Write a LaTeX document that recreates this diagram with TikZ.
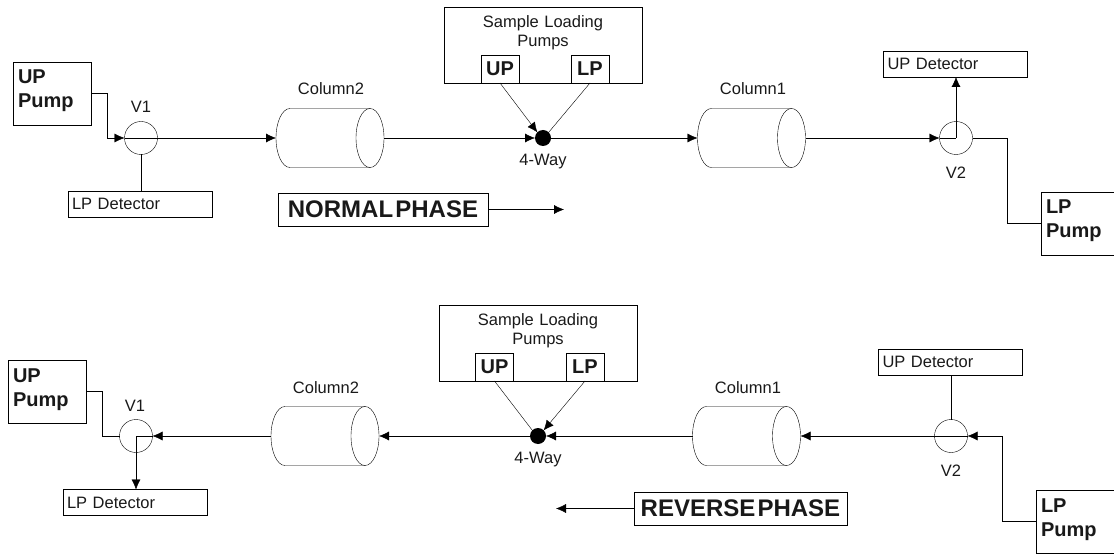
\documentclass[tikz,border=0pt]{standalone}
\usepackage{fontspec}
\setmainfont{Liberation Sans}
\usetikzlibrary{calc,arrows.meta}
\tikzset{%Global config
	>={Latex[length=10pt,width=9pt]},
	line width=1.15pt,
	color = black!90,
	%Styles
	Pump/.style={
		draw,
		outer sep=0pt,
		inner xsep=5pt,
		inner ysep=3pt,
		minimum width=78pt,
		text width=68pt,
		text height=19pt,
		text depth=38pt,
		align=left,
		font=\fontsize{20}{24}\selectfont\bfseries,
	},
	Detector/.style={
		draw,
		outer sep=0pt,
		minimum width=144pt,
		minimum height=26pt,
		text width=136pt,
		align=left,
		font=\fontsize{16.5}{19}\selectfont,
	},
	Valve/.style={
		draw,
		circle,
		outer sep=0pt,
		inner sep=0pt,
		minimum size=33pt,
	},
	Column/.style={
		outer sep=0pt,
		inner sep=0pt,
		minimum width=108pt,
		minimum height=59pt,
	},
	Loading/.style={
		draw,
		outer sep=0pt,
		inner ysep=3pt,
		minimum width=198pt,
		text width=188pt,
		text height=17.5pt,
		text depth=52.5pt,
		align=center,
		font=\fontsize{16.5}{19}\selectfont,
	},
	Small/.style={
		draw,
		fill=white,
		outer sep=0pt,
		inner sep=0pt,
		minimum width=38pt,
		minimum height=28pt,
		font=\fontsize{20}{24}\selectfont\bfseries,
	},
	Way/.style={
		circle,
		fill=black,
		outer sep=0pt,
		inner sep=0pt,
		minimum size=16pt,
	},
	Phase/.style={
		draw,
		outer sep=0pt,
		inner sep=0pt,
		minimum height=33pt,
		font=\fontsize{24}{28}\selectfont\bfseries,
	},
	Tag/.style={
		font=\fontsize{16.5}{19}\selectfont,
		inner sep=0pt,
	},
}
% Outline of a column round a plain node
\newcommand{\DrawColumn}[1]{
	\draw ($(#1.north east)+(-14,0)$) -- ($(#1.north west)+(14,0)$)
		arc[start angle=90,end angle=270,x radius=14pt,y radius=29.5pt]
		-- ($(#1.south east)+(-14,0)$);
	\draw ($(#1.east)+(-14,0)$) ellipse[x radius=14pt,y radius=29.5pt];
}
\begin{document}
\begin{tikzpicture}[x=1pt,y=-1pt]
	\clip (0,0) rectangle (1114,556);
	% Normal phase
	\node[Pump] (UPa) at (52,93.5) {UP\\Pump};
	\node[Valve] (Va) at (141,138) {};
	\node[Tag] (LVa) at (141,107) {V1};
	\node[Detector] (LDa) at (140,204) {LP Detector};
	\node[Column] (CBa) at (330,138) {};
	\node[Tag] (LCBa) at (331,89) {Column2};
	\node[Loading] (SLa) at (543,45) {Sample Loading\\Pumps};
	\node[Small] (SUa) at (500,69) {UP};
	\node[Small] (SPa) at (590,69) {LP};
	\node[Way] (Wa) at (543,138) {};
	\node[Tag] (LWa) at (543,162) {4-Way};
	\node[Column] (CAa) at (751.5,138) {};
	\node[Tag] (LCAa) at (753,89) {Column1};
	\node[Valve] (Ua) at (956,138) {};
	\node[Tag] (LUa) at (956,173) {V2};
	\node[Detector] (UDa) at (955.5,64) {UP Detector};
	\node[Pump] (LPa) at (1080,223.5) {LP\\Pump};
	\node[Phase,minimum width=210pt] (Na) at (383,209.5) {NORMAL\hspace{0.09em}PHASE\hspace{6pt}};
	\coordinate (Ea) at (564,209.5);
	\DrawColumn{CBa}
	\DrawColumn{CAa}

	\draw[->] (UPa.east) -- ++(16,0) |- (Va.west);
	\draw[->] (Va.west) -- (CBa.west);
	\draw (Va.south) -- (Va.south |- LDa.north);
	\draw[->] (CBa.east) -- (Wa.west);
	\draw[->] (SUa.south) -- (Wa.north west);
	\draw (SPa.south) -- (Wa.north east);
	\draw[->] (Wa.east) -- (CAa.west);
	\draw[->] (CAa.east) -- (Ua.west);
	\draw (Ua.west) -- (Ua.center);
	\draw[->] (Ua.center) -- (Ua.center |- UDa.south);
	\draw (LPa.west) -- ++(-34,0) |- (Ua.east);
	\draw[->] (Na.east) -- (Ea);

	% Reverse phase
	\node[Pump] (UPb) at (47,391.5) {UP\\Pump};
	\node[Valve] (Vb) at (136,436) {};
	\node[Tag] (LVb) at (135,406) {V1};
	\node[Detector] (LDb) at (135,502.5) {LP Detector};
	\node[Column] (CBb) at (325,436) {};
	\node[Tag] (LCBb) at (326,388) {Column2};
	\node[Loading] (SLb) at (538,343) {Sample Loading\\Pumps};
	\node[Small] (SUb) at (494.5,367) {UP};
	\node[Small] (SPb) at (585,367) {LP};
	\node[Way] (Wb) at (538,436) {};
	\node[Tag] (LWb) at (538,460) {4-Way};
	\node[Column] (CAb) at (746.5,436) {};
	\node[Tag] (LCAb) at (748,388) {Column1};
	\node[Valve] (Ub) at (951,436) {};
	\node[Tag] (LUb) at (951,471) {V2};
	\node[Detector] (UDb) at (950.5,362) {UP Detector};
	\node[Pump] (LPb) at (1075,521.5) {LP\\Pump};
	\node[Phase,minimum width=213pt] (Nb) at (740.5,508.5) {REVERSE\hspace{0.09em}PHASE};
	\coordinate (Eb) at (556,508.5);
	\DrawColumn{CBb}
	\DrawColumn{CAb}

	\draw (UPb.east) -- ++(16,0) |- (Vb.west);
	\draw[->] (CBb.west) -- (Vb.east);
	\draw (Vb.east) -- (Vb.center);
	\draw[->] (Vb.center) -- (Vb.center |- LDb.north);
	\draw[->] (Wb.west) -- (CBb.east);
	\draw (SUb.south) -- (Wb.north west);
	\draw[->] (SPb.south) -- (Wb.north east);
	\draw[->] (CAb.west) -- (Wb.east);
	\draw[->] (Ub.west) -- (CAb.east);
	\draw (Ub.east) -- (Ub.west);
	\draw (Ub.north) -- (Ub.north |- UDb.south);
	\draw[->] (LPb.west) -- ++(-34,0) |- (Ub.east);
	\draw[->] (Nb.west) -- (Eb);
\end{tikzpicture}
\end{document}
